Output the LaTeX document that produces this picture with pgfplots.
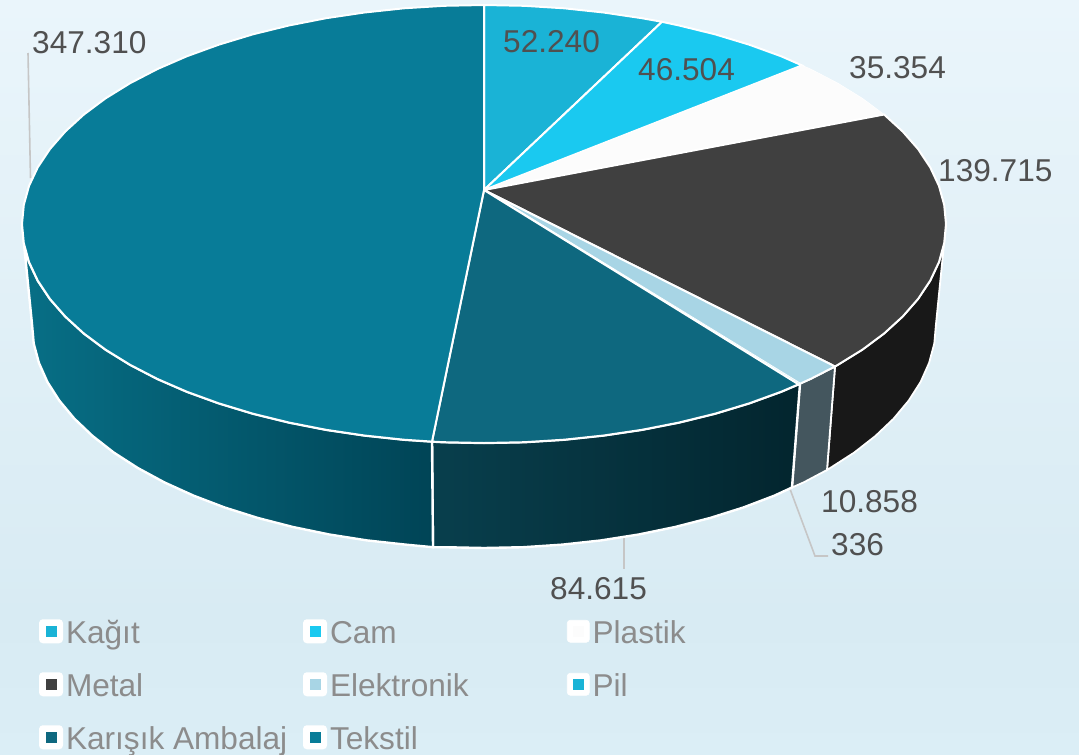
\documentclass[border=0pt]{standalone}
\usepackage{pgfplots}
\pgfplotsset{compat=1.18}
\usepackage{fontspec}
\setmainfont{Liberation Sans}
\definecolor{cKagit}{HTML}{1AB3D6}
\definecolor{cCam}{HTML}{1AC9F0}
\definecolor{cPlastik}{HTML}{FCFCFC}
\definecolor{cMetal}{HTML}{404040}
\definecolor{cElek}{HTML}{A8D5E5}
\definecolor{cPil}{HTML}{1AB3D6}
\definecolor{cKar}{HTML}{0E687F}
\definecolor{cTeks}{HTML}{087C98}
\definecolor{lab}{HTML}{505050}
\definecolor{leg}{HTML}{8C8C8C}
\definecolor{lead}{HTML}{C6C6C6}
\definecolor{bgA}{HTML}{EAF5FB}
\definecolor{bgB}{HTML}{D8EBF3}
\definecolor{bgC}{HTML}{DBEEF6}
\definecolor{sideM}{HTML}{181818}
\definecolor{sideE}{HTML}{44565E}
\definecolor{sideKl}{HTML}{083F4D}
\definecolor{sideKr}{HTML}{03252E}
\definecolor{sideTl}{HTML}{076F86}
\definecolor{sideTr}{HTML}{004456}
\newcommand\bigfont{\fontsize{31.6}{38}\selectfont}
\newcommand\LE[2][237pt]{\makebox[#1][l]{\rule[-8pt]{0pt}{37pt}#2}}
\begin{document}
\begin{tikzpicture}
\begin{axis}[
  scale only axis, width=1079pt, height=755pt,
  xmin=0, xmax=1079, ymin=0, ymax=755, y dir=reverse,
  hide axis, no markers,
  legend columns=3, legend cell align=left,
  legend style={at={(axis cs:39,614)}, anchor=north west, draw=none, fill=none,
    inner sep=0pt, outer sep=0pt, row sep=22.5pt, column sep=0pt,
    font=\bigfont, text=leg, nodes={inner sep=0pt, outer sep=0pt},
    /tikz/every odd column/.append style={column sep=3pt}},
  legend image code/.code={
    \fill[white, rounded corners=3pt] (0pt,-13pt) rectangle (22pt,9pt);
    \path[#1, draw=none] (5.5pt,-7.5pt) rectangle (16.5pt,3.5pt);
  },
]
% background
\addplot[forget plot, draw=none, top color=bgA, bottom color=bgB] coordinates {(0,0)(1079,0)(1079,620)(0,620)} -- cycle;
\addplot[forget plot, draw=none, top color=bgB, bottom color=bgC] coordinates {(0,620)(1079,620)(1079,755)(0,755)} -- cycle;
% leader lines
\addplot[forget plot, lead, line width=1.6pt] coordinates {(28,53)(30.5,178)};
\addplot[forget plot, lead, line width=1.6pt] coordinates {(624,537)(624,569)};
\addplot[forget plot, lead, line width=1.6pt] coordinates {(790,489)(815,556)(828,556)};
% sides
\addplot[forget plot, draw=white, line width=1.8pt, fill=sideM] coordinates {
(946,224)(944.2,243.1)(939,262)(930.2,280.7)(918.1,298.9)(902.7,316.5)(884.1,333.5)(862.5,349.6)(837.9,364.8)(835,366.5)
(827,470)(830.2,468)(854.3,452.5)(875.4,436)(893.6,418.7)(908.7,400.6)(920.6,382)(929.1,362.9)(934.3,343.5)(936,324)} -- cycle;
\addplot[forget plot, draw=white, line width=1.8pt, fill=sideE] coordinates {
(835,366.5)(810.7,378.9)(800,383.7)(792,487.5)(803.6,482.4)(827,470)} -- cycle;
\addplot[forget plot, draw=white, line width=2.4pt, left color=sideKl, right color=sideKr] coordinates {
(800,383.7)(781,391.8)(749,403.4)(715,413.7)(679.2,422.5)(642,429.8)(603.6,435.5)(564.2,439.7)(524.3,442.2)(484,443)(443.7,442.2)(432,441.6)
(433,547.2)(444.6,547.2)(484,548)(523.4,547.2)(562.5,544.6)(601,540.4)(638.6,534.5)(675,527)(710,518)(743.3,507.5)(774.5,495.6)(792,487.5)} -- cycle;
\addplot[forget plot, draw=white, line width=2.4pt, left color=sideTl, right color=sideTr] coordinates {
(432,441.6)(403.8,439.7)(364.4,435.5)(326,429.8)(288.8,422.5)(253,413.7)(219,403.4)(187,391.8)(157.3,378.9)(130.1,364.8)(105.5,349.6)(83.9,333.5)(65.3,316.5)(49.9,298.9)(37.8,280.7)(29,262)(23.8,243.1)(22,224)
(32,324)(33.7,343.5)(38.9,362.9)(47.4,382)(59.3,400.6)(74.4,418.7)(92.6,436)(113.7,452.5)(137.8,468)(164.4,482.4)(193.5,495.6)(224.7,507.5)(258,518)(293,527)(329.4,534.5)(367,540.4)(405.5,544.6)(433,547.2)} -- cycle;
% top face
\addplot[draw=white, line width=2pt, fill=cKagit] coordinates {(484,190)(484,5)(524.3,5.8)(564.2,8.3)(603.6,12.5)(642,18.2)(662,21.8)} -- cycle;
\addlegendentry{\LE{Kağıt}}
\addplot[draw=white, line width=2pt, fill=cCam] coordinates {(484,190)(662,21.8)(679.2,25.5)(715,34.3)(749,44.6)(781,56.2)(802,65.4)} -- cycle;
\addlegendentry{\LE{Cam}}
\addplot[draw=white, line width=0.6pt, fill=cPlastik] coordinates {(484,190)(802,65.4)(810.7,69.1)(837.9,83.2)(862.5,98.4)(884.1,114.5)} -- cycle;
\addlegendentry{\LE[120pt]{Plastik}}
\addplot[draw=white, line width=2pt, fill=cMetal] coordinates {(484,190)(884.1,114.5)(902.7,131.5)(918.1,149.1)(930.2,167.3)(939,186)(944.2,204.9)(946,224)(944.2,243.1)(939,262)(930.2,280.7)(918.1,298.9)(902.7,316.5)(884.1,333.5)(862.5,349.6)(837.9,364.8)(835,366.5)} -- cycle;
\addlegendentry{\LE{Metal}}
\addplot[draw=white, line width=2pt, fill=cElek] coordinates {(484,190)(835,366.5)(810.7,378.9)(800,383.7)} -- cycle;
\addlegendentry{\LE{Elektronik}}
\addplot[draw=white, line width=0.6pt, fill=cPil] coordinates {(484,190)(800,383.7)(798.5,384.3)} -- cycle;
\addlegendentry{\LE[120pt]{Pil}}
\addplot[draw=white, line width=2pt, fill=cKar] coordinates {(484,190)(798.5,384.3)(781,391.8)(749,403.4)(715,413.7)(679.2,422.5)(642,429.8)(603.6,435.5)(564.2,439.7)(524.3,442.2)(484,443)(443.7,442.2)(432,441.6)} -- cycle;
\addlegendentry{\LE{Karışık Ambalaj}}
\addplot[draw=white, line width=2pt, fill=cTeks] coordinates {(484,190)(432,441.6)(403.8,439.7)(364.4,435.5)(326,429.8)(288.8,422.5)(253,413.7)(219,403.4)(187,391.8)(157.3,378.9)(130.1,364.8)(105.5,349.6)(83.9,333.5)(65.3,316.5)(49.9,298.9)(37.8,280.7)(29,262)(23.8,243.1)(22,224)(23.8,204.9)(29,186)(37.8,167.3)(49.9,149.1)(65.3,131.5)(83.9,114.5)(105.5,98.4)(130.1,83.2)(157.3,69.1)(187,56.2)(219,44.6)(253,34.3)(288.8,25.5)(326,18.2)(364.4,12.5)(403.8,8.3)(443.7,5.8)(484,5)} -- cycle;
\addlegendentry{\LE[120pt]{Tekstil}}
% value labels
\begin{scope}[every node/.style={anchor=base west, inner sep=0pt, font=\bigfont, text=lab}]
\node at (axis cs:503,52) {52.240};
\node at (axis cs:638,80) {46.504};
\node at (axis cs:849,78) {35.354};
\node at (axis cs:938,181) {139.715};
\node at (axis cs:821,512) {10.858};
\node at (axis cs:831,555) {336};
\node at (axis cs:550,599) {84.615};
\node at (axis cs:32,53) {347.310};
\end{scope}
\end{axis}
\end{tikzpicture}
\end{document}
